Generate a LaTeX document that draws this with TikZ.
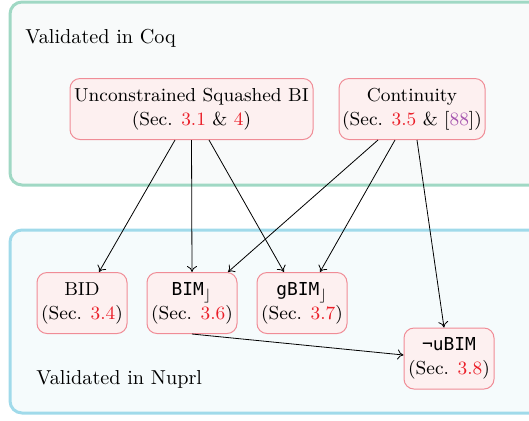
\documentclass[tikz,border=0pt]{standalone}
\usepackage{fontspec}
\setmonofont{DejaVu Sans Mono}[Scale=0.95]
\usetikzlibrary{arrows.meta}
\definecolor{nodeborder}{RGB}{240,140,150}
\definecolor{nodefill}{RGB}{253,240,240}
\definecolor{refred}{RGB}{235,30,40}
\definecolor{refpurple}{RGB}{165,85,175}
\definecolor{coqborder}{RGB}{160,216,196}
\definecolor{coqfill}{RGB}{248,250,250}
\definecolor{nuprlborder}{RGB}{160,218,234}
\definecolor{nuprlfill}{RGB}{245,251,252}
\newcommand{\secref}[1]{\textcolor{refred}{#1}}
\newcommand{\citeref}[1]{[\textcolor{refpurple}{#1}]}
\begin{document}
\begin{tikzpicture}[x=0.5pt,y=-0.5pt,
  regionbox/.style={line width=1.5pt, rounded corners=6pt},
  thmbox/.style={draw=nodeborder, fill=nodefill, line width=0.5pt, rounded corners=5pt,
    align=center, inner sep=0pt, minimum height=30.5pt, font=\fontsize{9.4}{12}\selectfont},
  smallbox/.style={thmbox, minimum width=45pt},
  edge/.style={-{To[length=3pt,width=5pt]}, line width=0.4pt},
  regionlabel/.style={anchor=base west, inner sep=0pt, font=\fontsize{10.1}{12}\selectfont}]
\useasboundingbox (0,0) rectangle (529,420);
\begin{scope}
\clip (0,0) rectangle (529,420);
\draw[regionbox, draw=coqborder, fill=coqfill] (10,2) rectangle (580,185);
\draw[regionbox, draw=nuprlborder, fill=nuprlfill] (10,230) rectangle (580,413);
\end{scope}
\node[regionlabel] (coq) at (25,43) {Validated in Coq};
\node[regionlabel] (nuprl) at (36,384) {Validated in Nuprl};

\node[thmbox, minimum width=121.5pt] (usbi) at (191.5,109) {Unconstrained Squashed BI\\(Sec. \secref{3.1} \& \secref{4})};
\node[thmbox, minimum width=73pt] (cont) at (412,109) {Continuity\\(Sec. \secref{3.5} \& \citeref{88})};
\node[smallbox] (bid) at (82,303) {BID\\(Sec. \secref{3.4})};
\node[smallbox] (bim) at (192,303) {\texttt{BIM}$_{\rfloor}$\\(Sec. \secref{3.6})};
\node[smallbox] (gbim) at (302,303) {\texttt{gBIM}$_{\rfloor}$\\(Sec. \secref{3.7})};
\node[smallbox] (ubim) at (449,358.5) {\texttt{¬uBIM}\\(Sec. \secref{3.8})};

\draw[edge] ([xshift=-8.25pt]usbi.south) -- ([xshift=8.5pt]bid.north);
\draw[edge] (usbi.south) -- (bim.north);
\draw[edge] ([xshift=8.75pt]usbi.south) -- ([xshift=-9pt]gbim.north);
\draw[edge] ([xshift=-17pt]cont.south) -- ([xshift=18pt]bim.north);
\draw[edge] ([xshift=-8.5pt]cont.south) -- ([xshift=9pt]gbim.north);
\draw[edge] ([xshift=2.5pt]cont.south) -- ([xshift=-2.5pt]ubim.north);
\draw[edge] (bim.south) -- ([yshift=1.75pt]ubim.west);
\end{tikzpicture}
\end{document}
